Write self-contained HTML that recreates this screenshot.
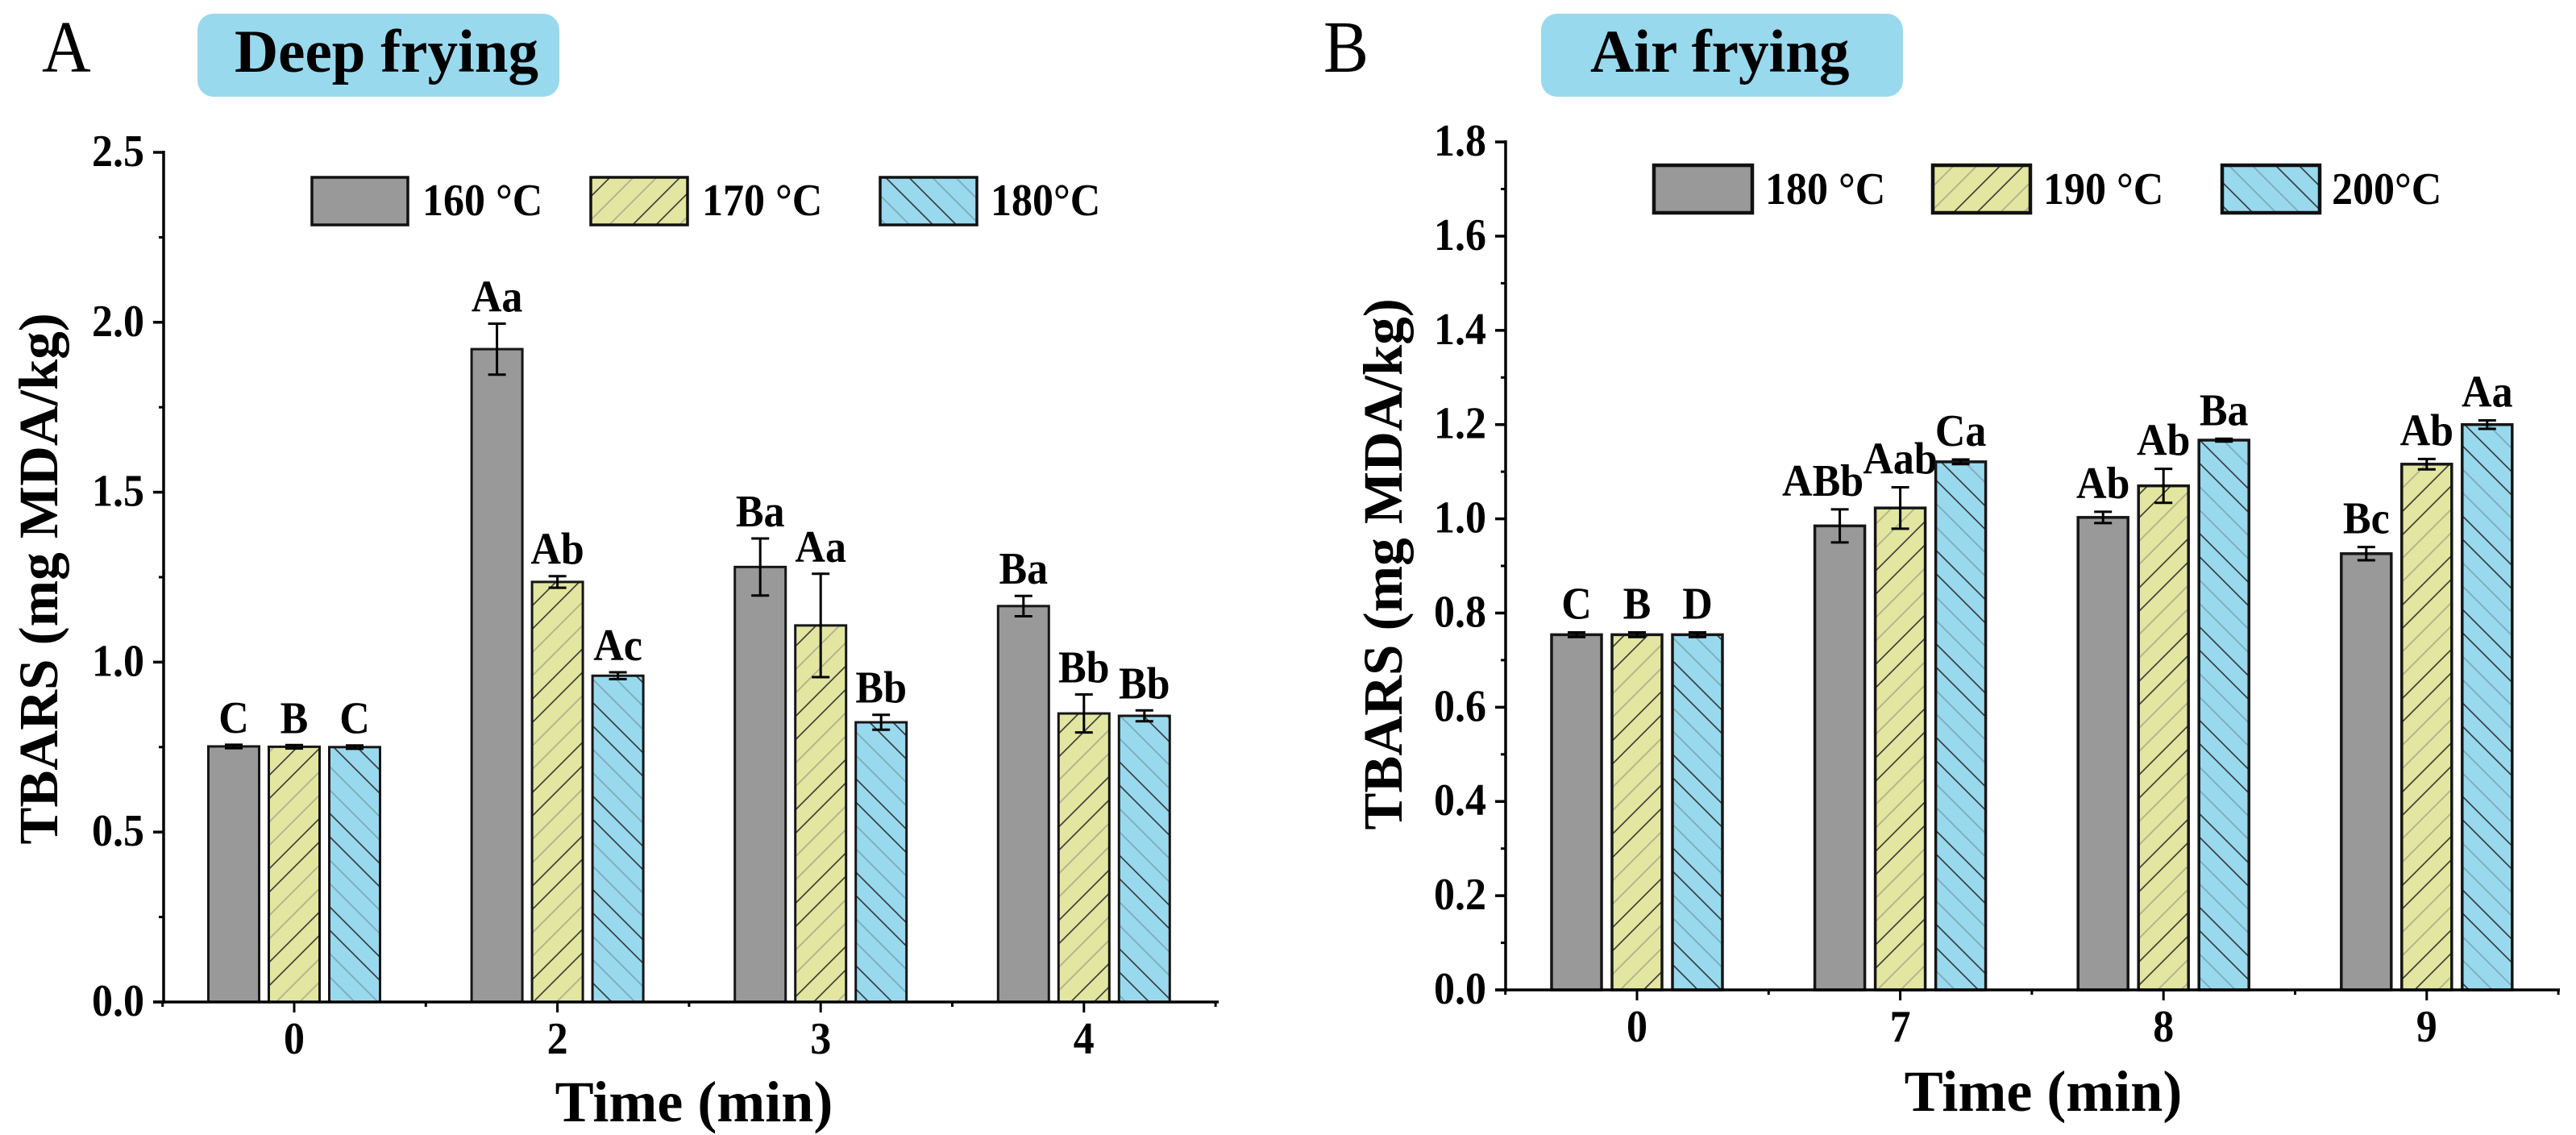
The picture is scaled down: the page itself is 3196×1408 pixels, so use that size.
<!DOCTYPE html>
<html lang="en">
<head>
<meta charset="utf-8">
<title>TBARS of deep frying and air frying</title>
<style>
html,body{margin:0;padding:0;background:#fff;}
svg{display:block;}
text{font-family:"Liberation Serif",serif;fill:#000;}
.b{font-weight:bold;}
</style>
</head>
<body>
<svg id="figure" xmlns="http://www.w3.org/2000/svg" width="3196" height="1408" viewBox="0 0 3196 1408">
<defs>
<pattern id="hatch-yellow" patternUnits="userSpaceOnUse" width="82" height="82" patternTransform="translate(0 6) rotate(-45)">
<rect width="82" height="82" fill="#e2e6a0"/>
<line x1="0" x2="82" y1="10" y2="10" stroke="#2a2a2a" stroke-width="1.4"/>
<line x1="0" x2="82" y1="30.5" y2="30.5" stroke="#2a2a2a" stroke-width="1.4"/>
<line x1="0" x2="82" y1="51" y2="51" stroke="#aeb08c" stroke-width="1.8"/>
<line x1="0" x2="82" y1="71.5" y2="71.5" stroke="#aeb08c" stroke-width="1.8"/>
</pattern>
<pattern id="hatch-blue" patternUnits="userSpaceOnUse" width="82" height="82" patternTransform="translate(0 6) rotate(45)">
<rect width="82" height="82" fill="#99d9ee"/>
<line x1="0" x2="82" y1="10" y2="10" stroke="#2a2a2a" stroke-width="1.4"/>
<line x1="0" x2="82" y1="30.5" y2="30.5" stroke="#2a2a2a" stroke-width="1.4"/>
<line x1="0" x2="82" y1="51" y2="51" stroke="#7ba9b9" stroke-width="1.8"/>
<line x1="0" x2="82" y1="71.5" y2="71.5" stroke="#7ba9b9" stroke-width="1.8"/>
</pattern>
</defs>

<text transform="translate(52 89) scale(1 1.09)" font-size="84">A</text>
<text transform="translate(1642 89) scale(1 1.09)" font-size="84">B</text>

<rect x="245" y="17" width="449" height="103" rx="20" ry="20" fill="#99d9ee"/>
<text class="b" x="291" y="89" font-size="75">Deep frying</text>
<rect x="1912" y="17" width="449" height="103" rx="20" ry="20" fill="#99d9ee"/>
<text class="b" x="1973" y="89" font-size="75">Air frying</text>

<g>
<rect x="387" y="220" width="119" height="59" fill="#999" stroke="#111" stroke-width="3.5"/>
<text class="b" transform="translate(524 267) scale(1 1.08)" font-size="52">160 °C</text>
<rect x="733" y="220" width="120" height="59" fill="url(#hatch-yellow)" stroke="#111" stroke-width="3.5"/>
<text class="b" transform="translate(871 267) scale(1 1.08)" font-size="52">170 °C</text>
<rect x="1092" y="220" width="120" height="59" fill="url(#hatch-blue)" stroke="#111" stroke-width="3.5"/>
<text class="b" transform="translate(1229 267) scale(1 1.08)" font-size="52">180°C</text>
</g>
<g>
<rect x="2052" y="205" width="122" height="59" fill="#999" stroke="#111" stroke-width="4.5"/>
<text class="b" transform="translate(2190 253) scale(1 1.08)" font-size="52">180 °C</text>
<rect x="2398" y="205" width="121" height="59" fill="url(#hatch-yellow)" stroke="#111" stroke-width="4.5"/>
<text class="b" transform="translate(2535 253) scale(1 1.08)" font-size="52">190 °C</text>
<rect x="2757" y="205" width="121" height="59" fill="url(#hatch-blue)" stroke="#111" stroke-width="4.5"/>
<text class="b" transform="translate(2893 253) scale(1 1.08)" font-size="52">200°C</text>
</g>

<g id="panel-a"></g>
<g id="panel-b"></g>
</svg>

<script>
// ---- Panel A: deep frying ----
const deepCategories = ['0', '2', '3', '4'];
const deepTicks = ['0.0', '0.5', '1.0', '1.5', '2.0', '2.5'];
const deep160 = [0.752, 1.921, 1.280, 1.165];
const deep170 = [0.751, 1.236, 1.108, 0.849];
const deep180 = [0.750, 0.960, 0.823, 0.842];
const deep160Err = [0.005, 0.075, 0.084, 0.030];
const deep170Err = [0.005, 0.017, 0.152, 0.056];
const deep180Err = [0.005, 0.010, 0.022, 0.016];
const deep160Letters = ['C', 'Aa', 'Ba', 'Ba'];
const deep170Letters = ['B', 'Ab', 'Aa', 'Bb'];
const deep180Letters = ['C', 'Ac', 'Bb', 'Bb'];

// ---- Panel B: air frying ----
const airCategories = ['0', '7', '8', '9'];
const airTicks = ['0.0', '0.2', '0.4', '0.6', '0.8', '1.0', '1.2', '1.4', '1.6', '1.8'];
const air180 = [0.754, 0.985, 1.003, 0.926];
const air190 = [0.754, 1.023, 1.070, 1.116];
const air200 = [0.754, 1.121, 1.167, 1.200];
const air180Err = [0.005, 0.035, 0.012, 0.014];
const air190Err = [0.005, 0.044, 0.036, 0.011];
const air200Err = [0.005, 0.005, 0.003, 0.009];
const air180Letters = ['C', 'ABb', 'Ab', 'Bc'];
const air190Letters = ['B', 'Aab', 'Ab', 'Ab'];
const air200Letters = ['D', 'Ca', 'Ba', 'Aa'];

const NS = 'http://www.w3.org/2000/svg';

function make(parent, tag, attrs, text) {
  const node = document.createElementNS(NS, tag);
  for (const k in attrs) node.setAttribute(k, attrs[k]);
  if (text !== undefined) node.textContent = text;
  parent.appendChild(node);
  return node;
}

function drawPanel(root, cfg) {
  const xPos = i => cfg.x0 + cfg.groupStep * i;
  const yPos = v => cfg.y0 - v * cfg.pxPerUnit;
  const yMax = Number(cfg.ticks[cfg.ticks.length - 1]);
  const yStep = Number(cfg.ticks[1]) - Number(cfg.ticks[0]);
  const fills = ['#999999', 'url(#hatch-yellow)', 'url(#hatch-blue)'];

  // bars, error bars and significance letters
  cfg.series.forEach((series, s) => {
    series.values.forEach((value, i) => {
      const cx = xPos(i) + (s - 1) * cfg.barStep;
      const bar = make(root, 'rect', {
        x: cx - cfg.barWidth / 2,
        y: yPos(value),
        width: cfg.barWidth,
        height: cfg.y0 - yPos(value),
        fill: fills[s],
        stroke: '#161616',
        'stroke-width': cfg.barStroke
      });
      
      

      const err = series.err[i];
      const top = yPos(value + err);
      const bottom = yPos(value - err);
      const errBar = make(root, 'path', {
        d: 'M' + (cx - 11) + ' ' + top + 'H' + (cx + 11) +
           'M' + cx + ' ' + top + 'V' + bottom +
           'M' + (cx - 11) + ' ' + bottom + 'H' + (cx + 11),
        fill: 'none',
        stroke: '#000',
        'stroke-width': 3
      });
      
      

      const letter = series.letters[i];
      const shift = letter === 'ABb' ? -21 : 0;
      const label = make(root, 'text', {
        class: 'b',
        transform: 'translate(' + (cx + shift) + ' ' + (top - cfg.labelGap) + ') scale(1 1.08)',
        'font-size': 52,
        'text-anchor': 'middle'
      }, letter);
      
      
    });
  });

  // y axis
  const yAxis = make(root, 'line', { x1: cfg.xLeft, x2: cfg.xLeft, y1: yPos(yMax) - 2, y2: cfg.y0 + 2, stroke: '#000', 'stroke-width': 3.5 });
  
  

  cfg.ticks.forEach((t, i) => {
    const y = yPos(Number(t));
    const tick = make(root, 'line', { x1: cfg.xLeft - 13, x2: cfg.xLeft, y1: y, y2: y, stroke: '#000', 'stroke-width': 3.5 });
    
    

    const lab = make(root, 'text', {
      class: 'b',
      transform: 'translate(' + (cfg.xLeft - 24) + ' ' + (y + 17) + ') scale(1 1.08)',
      'font-size': 52,
      'text-anchor': 'end'
    }, t);
    
    

    if (i < cfg.ticks.length - 1) {
      const my = yPos(Number(t) + yStep / 2);
      const minor = make(root, 'line', { x1: cfg.xLeft - 6, x2: cfg.xLeft, y1: my, y2: my, stroke: '#000', 'stroke-width': 3 });
      
      
    }
  });

  // x axis
  const xAxis = make(root, 'line', { x1: cfg.xLeft - 13, x2: cfg.xRight + 2, y1: cfg.y0, y2: cfg.y0, stroke: '#000', 'stroke-width': 3.5 });
  
  

  cfg.categories.forEach((c, i) => {
    const x = xPos(i);
    const tick = make(root, 'line', { x1: x, x2: x, y1: cfg.y0, y2: cfg.y0 + 13, stroke: '#000', 'stroke-width': 3 });
    
    

    const lab = make(root, 'text', {
      class: 'b',
      transform: 'translate(' + x + ' ' + cfg.xLabelY + ') scale(1 1.08)',
      'font-size': 52,
      'text-anchor': 'middle'
    }, c);
    
    
  });

  [-0.5, 0.5, 1.5, 2.5, 3.5].forEach(p => {
    const x = xPos(p);
    const minor = make(root, 'line', { x1: x, x2: x, y1: cfg.y0, y2: cfg.y0 + 6, stroke: '#000', 'stroke-width': 3 });
    
    
  });

  // axis titles
  const yTitle = make(root, 'text', {
    class: 'b',
    transform: 'translate(' + cfg.yTitleX + ' ' + cfg.yTitleY + ') rotate(-90)',
    'font-size': 69,
    'text-anchor': 'middle'
  }, 'TBARS (mg MDA/kg)');
  
  

  const xTitle = make(root, 'text', {
    class: 'b',
    x: cfg.xTitleX,
    y: cfg.xTitleY,
    'font-size': 72,
    'text-anchor': 'middle'
  }, 'Time (min)');
  
  
}

drawPanel(document.getElementById('panel-a'), {
  key: 'deep',
  categories: deepCategories,
  ticks: deepTicks,
  series: [
    { name: '160C', values: deep160, err: deep160Err, letters: deep160Letters },
    { name: '170C', values: deep170, err: deep170Err, letters: deep170Letters },
    { name: '180C', values: deep180, err: deep180Err, letters: deep180Letters }
  ],
  x0: 365, groupStep: 326.6, barStep: 75, barWidth: 63, barStroke: 3,
  y0: 1243, pxPerUnit: 421.6, xLeft: 203, xRight: 1510,
  labelGap: 15, xLabelY: 1307,
  yTitleX: 71, yTitleY: 718, xTitleX: 861, xTitleY: 1391
});

drawPanel(document.getElementById('panel-b'), {
  key: 'air',
  categories: airCategories,
  ticks: airTicks,
  series: [
    { name: '180C', values: air180, err: air180Err, letters: air180Letters },
    { name: '190C', values: air190, err: air190Err, letters: air190Letters },
    { name: '200C', values: air200, err: air200Err, letters: air200Letters }
  ],
  x0: 2031, groupStep: 326.6, barStep: 75, barWidth: 62, barStroke: 3.5,
  y0: 1228, pxPerUnit: 584.4, xLeft: 1868, xRight: 3174,
  labelGap: 17, xLabelY: 1292,
  yTitleX: 1739, yTitleY: 700, xTitleX: 2535, xTitleY: 1378
});
</script>
</body>
</html>
